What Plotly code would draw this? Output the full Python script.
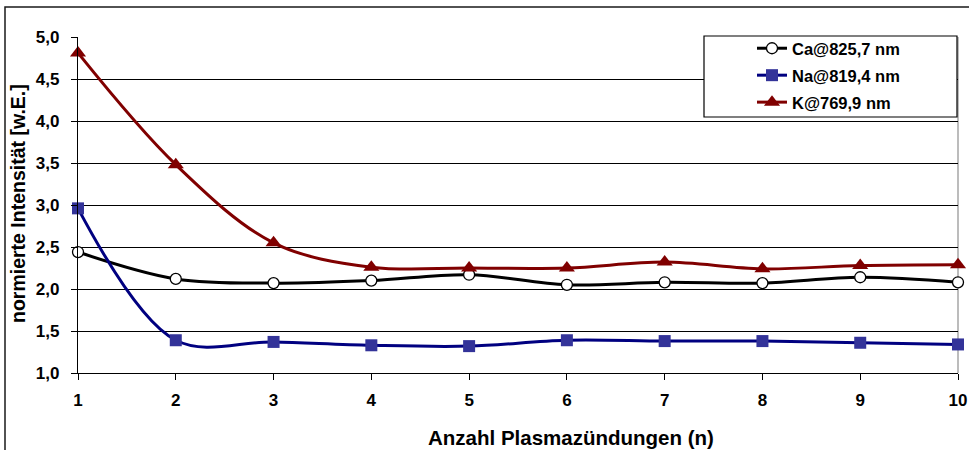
import plotly.graph_objects as go

# Number of plasma ignitions
shots = [1, 2, 3, 4, 5, 6, 7, 8, 9, 10]

# Normalised line intensities (arbitrary units)
ca_825 = [2.44, 2.12, 2.07, 2.10, 2.17, 2.05, 2.08, 2.07, 2.14, 2.08]
na_819 = [2.96, 1.39, 1.37, 1.33, 1.32, 1.39, 1.38, 1.38, 1.36, 1.34]
k_769 = [4.81, 3.48, 2.55, 2.26, 2.25, 2.25, 2.32, 2.24, 2.28, 2.29]

series_names = ["Ca@825,7 nm", "Na@819,4 nm", "K@769,9 nm"]

FONT = "Liberation Sans, Arial, sans-serif"

# Plot area in pixels
W, H = 969, 450
L, R, T, B = 78, 11, 37, 77
PW, PH = W - L - R, H - T - B


def px_x(px):
    return (px - L) / PW


def px_y(py):
    return (H - B - py) / PH


fig = go.Figure()

fig.add_trace(go.Scatter(
    x=shots, y=ca_825, name=series_names[0], mode="lines+markers",
    legendgroup="ca",
    line=dict(color="#000000", width=3, shape="spline", smoothing=1),
    marker=dict(symbol="circle", size=11, color="#ffffff",
                line=dict(color="#000000", width=1.3)),
    cliponaxis=False,
))
fig.add_trace(go.Scatter(
    x=shots, y=na_819, name=series_names[1], mode="lines+markers",
    legendgroup="na",
    line=dict(color="#000080", width=3, shape="spline", smoothing=1),
    marker=dict(symbol="square", size=12, color="#333399",
                line=dict(color="#333399", width=0)),
    cliponaxis=False,
))
fig.add_trace(go.Scatter(
    x=shots, y=k_769, name=series_names[2], mode="lines+markers",
    legendgroup="k",
    line=dict(color="#800000", width=3, shape="spline", smoothing=1),
    marker=dict(symbol="triangle-up", size=14, color="#800000",
                line=dict(color="#800000", width=0)),
    cliponaxis=False,
))

shapes = [
    # outer chart frame
    dict(type="rect", xref="paper", yref="paper",
         x0=px_x(5), x1=px_x(990), y0=px_y(480), y1=px_y(7),
         line=dict(color="#1a1a1a", width=1.5), fillcolor="rgba(0,0,0,0)",
         layer="below"),
    # right edge of the plot area
    dict(type="line", xref="paper", yref="paper", x0=1, x1=1, y0=0, y1=1,
         line=dict(color="#a6a6a6", width=1.5), layer="below"),
    # legend box
    dict(type="rect", xref="paper", yref="paper",
         x0=px_x(704), x1=px_x(957), y0=px_y(117), y1=px_y(36),
         line=dict(color="#000000", width=1.2), fillcolor="#ffffff",
         layer="above"),
]

annotations = [
    dict(text="<b>Anzahl Plasmazündungen (n)</b>", xref="paper", yref="paper",
         x=px_x(571), y=px_y(437), xanchor="center", yanchor="middle",
         showarrow=False, font=dict(family=FONT, size=20.5, color="#000000")),
    dict(text="<b>normierte Intensität [w.E.]</b>", xref="paper", yref="paper",
         x=px_x(18), y=px_y(204), xanchor="center", yanchor="middle",
         textangle=-90, showarrow=False,
         font=dict(family=FONT, size=19.5, color="#000000")),
]

fig.update_layout(
    width=W, height=H,
    margin=dict(l=L, r=R, t=T, b=B, pad=0, autoexpand=False),
    paper_bgcolor="#ffffff", plot_bgcolor="#ffffff",
    separators=",.",
    font=dict(family=FONT, color="#000000"),
    shapes=shapes,
    annotations=annotations,
    showlegend=True,
    legend=dict(
        x=px_x(752), y=px_y(31), xanchor="left", yanchor="top",
        bgcolor="rgba(0,0,0,0)", borderwidth=0,
        font=dict(family=FONT, size=16.5, color="#000000", weight="bold"),
        tracegroupgap=2.5, itemwidth=30,
    ),
    xaxis=dict(
        range=[1, 10], tickmode="array", tickvals=shots,
        ticktext=[str(s) for s in shots],
        automargin=False,
        showline=True, linecolor="#000000", linewidth=1.3,
        ticks="outside", ticklen=6, tickcolor="#000000", tickwidth=1,
        showgrid=False, zeroline=False,
        tickfont=dict(family=FONT, size=17, color="#000000", weight="bold"),
        ticklabelstandoff=5,
    ),
    yaxis=dict(
        range=[1, 5], dtick=0.5, tick0=1, tickformat=".1f",
        automargin=False,
        showline=True, linecolor="#000000", linewidth=1.3,
        ticks="outside", ticklen=6, tickcolor="#000000", tickwidth=1,
        showgrid=True, gridcolor="#000000", gridwidth=1,
        zeroline=False,
        tickfont=dict(family=FONT, size=17, color="#000000", weight="bold"),
        ticklabelstandoff=8,
    ),
)

fig.write_html("out.html")
